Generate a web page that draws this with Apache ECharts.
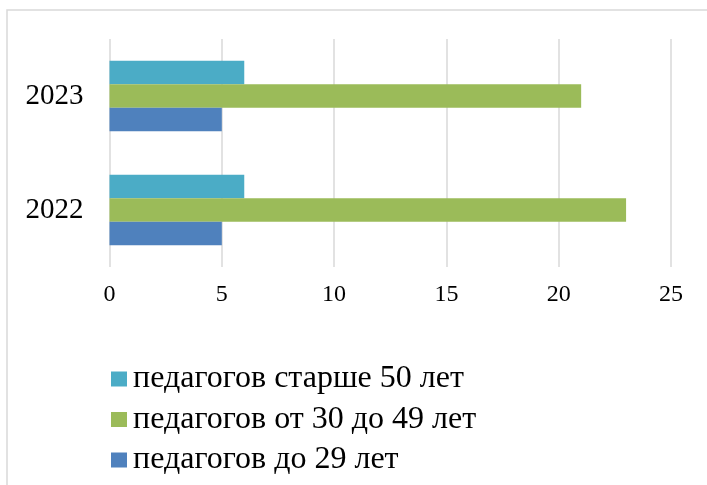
<!DOCTYPE html>
<html>
<head>
<meta charset="utf-8">
<script src="https://cdn.jsdelivr.net/npm/echarts@6/dist/echarts.min.js"></script>
<style>
  html, body { margin: 0; padding: 0; background: #fff; }
  #chart { width: 707px; height: 485px; }
</style>
</head>
<body>
<div id="chart"></div>
<script>
const years = ['2022', '2023'];
const under29 = [5, 5];
const from30to49 = [23, 21];
const over50 = [6, 6];
const xTicks = [0, 5, 10, 15, 20, 25];

const serif = "'Liberation Serif', 'Times New Roman', serif";
const chart = echarts.init(document.getElementById('chart'));

const option = {
    animation: false,
    backgroundColor: '#ffffff',
    graphic: [{
        type: 'rect',
        shape: { x: 7, y: 10, width: 760, height: 540 },
        style: { fill: 'none', stroke: '#d9d9d9', lineWidth: 1.5 },
        silent: true
    }],
    grid: { left: 109.5, right: 36, top: 39, bottom: 218 },
    legend: {
        orient: 'vertical',
        left: 106,
        top: 358,
        itemWidth: 16,
        itemHeight: 15,
        itemGap: 8.5,
        icon: 'rect',
        data: ['педагогов старше 50 лет', 'педагогов от 30 до 49 лет', 'педагогов до 29 лет'],
        textStyle: { fontFamily: serif, fontSize: 32, color: '#000', padding: [0, 0, 0, 1] }
    },
    xAxis: {
        type: 'value',
        min: xTicks[0],
        max: xTicks[xTicks.length - 1],
        interval: 5,
        axisLine: { show: false },
        axisTick: { show: false },
        splitLine: { lineStyle: { color: '#d9d9d9', width: 1.5 } },
        axisLabel: { fontFamily: serif, fontSize: 24, color: '#000', margin: 16 }
    },
    yAxis: {
        type: 'category',
        data: years,
        axisLine: { show: false },
        axisTick: { show: false },
        axisLabel: { fontFamily: serif, fontSize: 29, color: '#000', margin: 26 }
    },
    series: [
        { name: 'педагогов старше 50 лет', type: 'bar', data: over50, itemStyle: { color: '#4BACC6' }, barGap: '0%', barCategoryGap: '38%' },
        { name: 'педагогов от 30 до 49 лет', type: 'bar', data: from30to49, itemStyle: { color: '#9BBB59' } },
        { name: 'педагогов до 29 лет', type: 'bar', data: under29, itemStyle: { color: '#4F81BD' } }
    ]
};

chart.setOption(option);
</script>
</body>
</html>
